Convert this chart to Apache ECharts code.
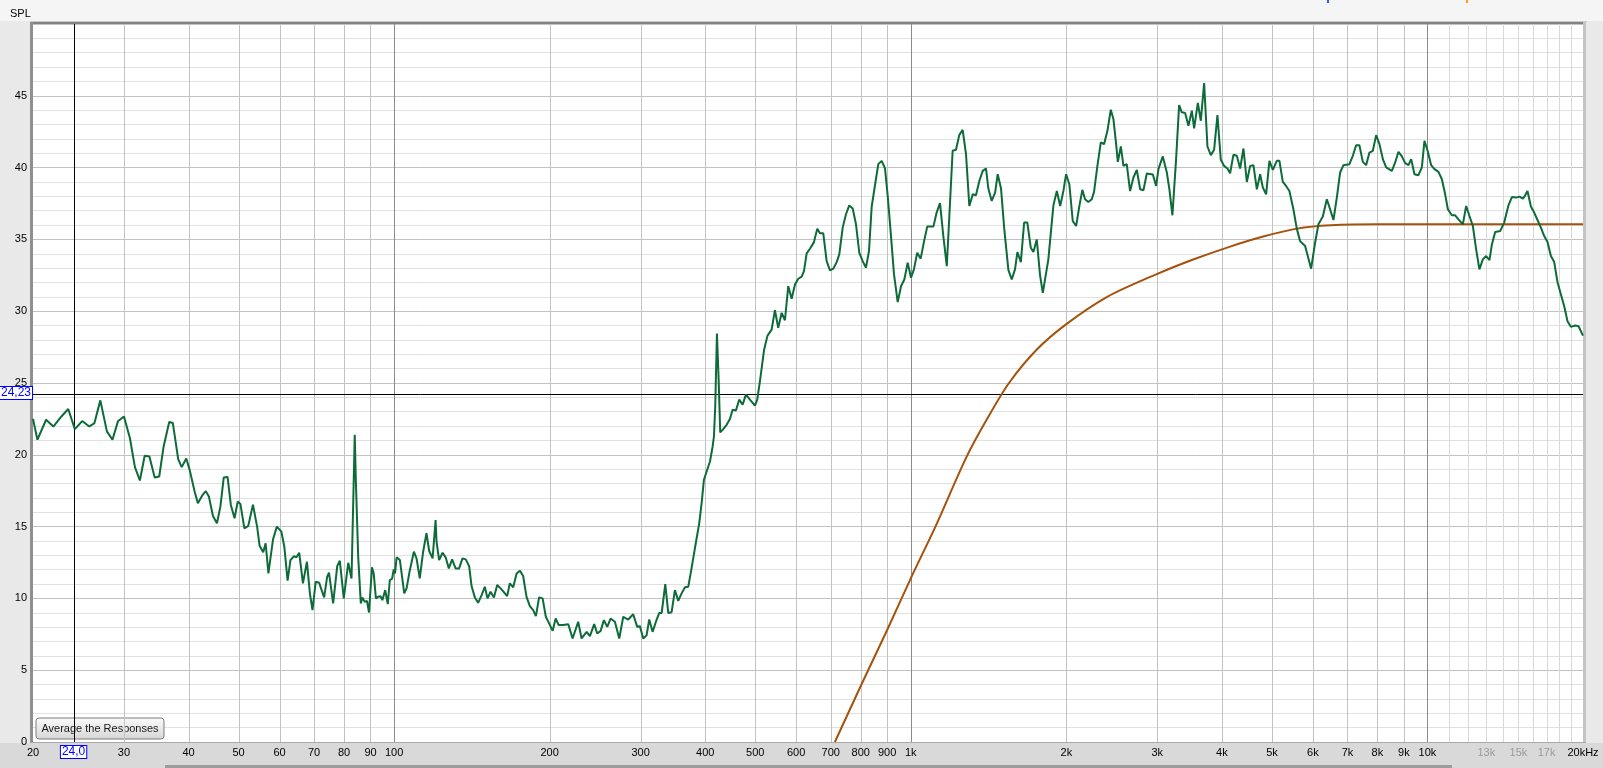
<!DOCTYPE html>
<html><head><meta charset="utf-8">
<script src="https://cdn.jsdelivr.net/npm/echarts@6/dist/echarts.min.js"></script>
<style>html,body{margin:0;padding:0;background:#e9e9e9;}#c{width:1603px;height:768px;}</style>
</head><body><div id="c"></div>
<script>
// ---- data ----
const freqHz = [20.0,20.4,21.2,21.9,22.7,23.4,24.1,24.9,25.7,26.3,27.0,27.8,28.5,29.2,30.0,30.8,31.5,32.2,32.9,33.6,34.4,35.1,35.8,36.7,37.3,38.2,38.8,39.6,40.2,41.1,41.7,42.6,43.2,43.8,44.6,45.4,46.1,46.8,47.6,48.3,49.1,49.8,50.4,51.3,52.2,53.3,54.3,54.9,55.8,56.4,57.1,58.3,59.3,60.5,61.3,62.2,63.0,64.0,64.7,65.5,66.6,67.8,68.7,69.5,70.5,71.6,72.3,73.2,74.2,74.8,76.2,77.6,78.5,79.9,81.5,82.7,83.9,84.3,85.2,86.2,86.8,87.7,88.6,89.4,90.6,91.3,92.2,93.1,94.1,94.9,96.1,97.2,98.1,99.1,99.8,100.4,101.1,102.6,104.6,105.7,107.2,109.2,110.5,112.1,113.8,115.5,116.9,118.7,120.3,120.8,122.2,124.1,125.8,127.6,129.5,131.5,133.6,135.6,137.6,139.7,141.2,143.3,145.4,147.7,149.8,151.6,153.7,156.0,158.3,161.4,165.5,167.5,170.0,172.6,175.2,177.7,180.4,183.1,185.8,188.1,190.8,193.8,196.6,199.5,202.7,205.4,208.2,212.5,217.3,221.5,227.1,230.6,235.8,239.3,243.9,247.2,251.0,254.7,258.5,262.4,267.5,272.7,277.6,283.8,290.2,295.4,299.0,303.4,308.1,311.7,316.4,322.2,326.0,329.5,334.8,339.3,344.4,349.5,354.7,360.1,365.5,370.9,374.9,379.2,385.0,389.5,393.7,397.7,402.6,408.6,413.5,415.9,418.3,421.5,424.7,427.7,433.5,440.1,446.6,452.0,458.7,465.5,472.6,479.6,488.3,499.3,504.4,510.5,520,528,537.8,545.8,553.9,562.4,570.7,579.2,588.0,596.8,605.6,614.9,621.2,628.7,638.0,649.5,659.1,667.1,677.0,687.3,697.5,707.9,718.7,727.1,738.2,749.1,760.2,771.8,783.3,794.9,807.0,819.0,830.0,840.1,852.5,865.2,878.4,891.4,902.2,914.4,927.9,943.3,957.4,971.6,986.3,1001,1014,1029,1045,1061,1076,1106,1122,1139,1156,1174,1191,1205,1223,1241,1260,1279,1298,1318,1337,1357,1378,1398,1413,1434,1456,1473,1495,1517,1545,1568,1591,1608,1633,1657,1681,1707,1727,1753,1779,1801,1846,1888,1917,1946,1974,1998,2027,2058,2089,2120,2148,2174,2206,2240,2263,2297,2332,2366,2402,2438,2467,2497,2516,2550,2580,2618,2657,2697,2738,2779,2820,2863,2941,2984,3015,3074,3130,3166,3209,3262,3306,3346,3396,3446,3499,3535,3594,3642,3696,3751,3808,3864,3922,3981,4040,4100,4150,4211,4276,4339,4404,4471,4537,4604,4675,4744,4801,4872,4944,5020,5110,5170,5248,5326,5405,5502,5586,5669,5797,5954,6061,6151,6273,6386,6480,6577,6677,6776,6876,7062,7170,7276,7384,7497,7608,7721,7839,7956,8074,8197,8319,8533,8659,8787,8922,9054,9189,9300,9437,9607,9753,9867,10007,10166,10317,10503,10663,10821,10952,11148,11314,11481,11708,11882,12058,12243,12424,12605,12800,12990,13183,13325,13522,13827,14076,14348,14567,14849,15070,15300,15458,15617,15856,16091,16329,16579,16825,17074,17335,17592,17852,18125,18394,18666,18951,19318,19604,20000];
const splMeasured = [22.5,21.05,22.44,21.97,22.67,23.19,21.79,22.35,21.97,22.21,23.79,21.63,21.05,22.33,22.67,21.17,19.14,18.21,19.93,19.88,18.42,18.49,20.58,22.28,22.21,19.7,19.14,19.74,18.95,17.44,16.63,17.21,17.47,17.09,15.74,15.23,16.39,18.42,18.46,16.51,15.58,16.74,16.58,14.88,15.05,16.53,15.0,13.67,13.21,13.84,11.74,14.12,15.0,14.65,13.6,11.23,12.67,12.95,12.86,13.18,11.05,12.55,10.35,9.18,11.16,11.09,10.63,10.07,11.51,11.79,9.65,12.25,12.62,10.0,12.48,11.39,21.4,18.3,12.9,9.65,10.07,9.76,9.83,9.02,12.16,11.74,10.0,10.11,10.16,9.88,10.58,9.6,11.28,11.37,12.02,11.74,12.86,12.67,10.35,10.7,11.93,13.25,12.79,11.39,13.25,14.54,13.3,12.79,15.46,13.95,12.67,13.18,12.86,12.09,12.72,12.09,12.09,12.79,12.72,12.25,10.86,10.07,9.69,10.23,10.81,10.0,10.46,10.07,10.93,10.63,10.16,11.05,10.77,11.74,11.93,11.56,10.11,9.46,9.18,8.77,10.07,10.0,8.72,8.26,7.74,8.6,8.14,8.14,8.2,7.21,8.37,7.21,7.67,7.37,8.21,7.56,7.74,8.49,8.02,8.6,8.37,7.21,8.72,8.53,8.9,8.02,8.07,7.21,7.44,8.53,7.67,8.53,8.99,8.99,11.0,8.99,9.04,10.58,9.83,10.35,10.77,10.81,11.74,12.79,14.19,15.23,16.63,18.26,18.84,19.53,20.58,21.28,23.37,28.44,25.23,21.56,21.79,22.09,22.49,23.14,23.09,23.84,23.49,24.19,23.84,23.42,23.84,25.12,27.3,28.3,28.72,30.07,28.84,29.89,29.37,31.74,30.86,31.86,32.26,32.4,32.79,34.03,34.35,34.81,35.75,35.42,35.42,33.49,32.84,32.96,33.42,33.96,35.82,36.75,37.37,37.15,36.05,34.07,33.49,33.03,34.19,37.29,38.77,40.24,40.47,39.94,38.03,35.47,32.56,30.63,31.74,32.21,33.38,32.33,32.91,34.07,33.66,34.88,35.89,35.89,36.87,37.52,35.23,33.14,37.57,41.17,41.24,42.26,42.63,40.94,37.33,38.14,38.07,39.07,39.77,39.94,38.54,37.68,38.26,39.54,38.54,35.7,32.86,32.21,32.91,34.12,33.42,36.17,36.17,34.42,34.12,35.0,32.5,31.28,33.61,37.37,38.37,37.33,38.37,39.54,38.84,36.28,35.93,37.33,38.45,37.8,37.61,37.8,38.31,40.12,41.75,41.63,42.56,44.03,43.38,41.63,40.4,41.47,40.12,40.24,38.37,39.31,39.84,38.49,38.42,39.59,39.52,38.72,39.89,40.78,39.66,38.49,36.68,40.59,44.35,43.85,43.8,42.91,43.96,42.73,44.5,43.26,45.89,41.47,40.87,41.24,43.66,40.54,40.12,39.94,39.61,40.89,40.82,39.94,41.33,39.0,40.12,40.17,38.49,39.54,38.61,38.14,40.47,39.84,40.47,40.47,39.0,38.72,38.37,37.1,35.75,34.88,34.54,32.96,34.77,36.05,36.59,37.8,37.1,36.35,37.91,39.66,40.17,40.24,40.82,41.56,41.56,40.4,40.17,41.05,41.17,42.26,41.63,40.59,40.01,39.77,40.36,41.1,40.78,40.31,40.17,40.59,39.54,39.47,40.01,41.86,41.17,40.17,39.89,39.7,39.19,38.14,37.1,36.68,36.68,36.4,36.05,37.33,36.63,35.93,34.31,32.91,33.61,33.84,33.56,34.65,35.51,35.58,36.17,37.37,37.95,37.91,37.98,37.84,38.07,38.37,37.29,36.87,36.35,35.82,35.23,34.82,33.84,33.42,32.02,31.17,30.35,29.3,28.91,29.0,28.95,28.3];
const targetHz = [713,800,900,1000,1116,1280,1400,1549,1750,2000,2400,3000,3520,4150,4810,5590,6500,8000,10000,20000];
const targetDb = [0,3.9,7.8,11.4,15.0,19.8,22.4,25.0,27.3,29.1,31.0,32.6,33.6,34.5,35.2,35.75,35.98,36.05,36.05,36.05];
const gridHz = [20,30,40,50,60,70,80,90,100,200,300,400,500,600,700,800,900,1000,2000,3000,4000,5000,6000,7000,8000,9000,10000,11000,12000,13000,14000,15000,16000,17000,18000,19000,20000];
const gridLabels = ['20','30','40','50','60','70','80','90','100','200','300','400','500','600','700','800','900','1k','2k','3k','4k','5k','6k','7k','8k','9k','10k','','','13k','','15k','','17k','','','20kHz'];
const cursorHz = 24.0, cursorDb = 24.23;
const cursorHzText = '24,0', cursorDbText = '24,23';
const yLabelStep = 5;

const FONT = 'Liberation Sans, Arial, sans-serif';
const chart = echarts.init(document.getElementById('c'), null, {renderer:'canvas'});
const zip = (a,b) => a.map((v,i)=>[v,b[i]]);

function gridLineColor(hz) {
  if (hz === 20 || hz === 20000) return null;
  if (hz === 100 || hz === 1000 || hz === 10000) return '#8a8a8a';
  if (hz > 10000) return '#d9d9d9';
  return '#c3c3c3';
}

const option = {
  animation: false,
  backgroundColor: '#e9e9e9',
  grid: {left: 33, right: 20, top: 24, bottom: 26, show: true, backgroundColor: '#ffffff', borderWidth: 0},
  xAxis: {type: 'log', logBase: 10, min: 20, max: 20000,
    axisLine: {show: false}, axisTick: {show: false}, axisLabel: {show: false},
    splitLine: {show: false}, minorTick: {show: false}, minorSplitLine: {show: false}, splitArea: {show: false}},
  yAxis: {type: 'value', min: 0, max: 50, interval: 1,
    axisLine: {show: false}, axisTick: {show: false},
    axisLabel: {interval: 0, margin: 6, fontSize: 11, fontFamily: FONT, color: '#000',
      formatter: v => (v % yLabelStep === 0 && v < 50) ? String(v) : ''},
    splitLine: {show: true, lineStyle: {width: 1, color: ['#c2c2c2','#e1e1e1','#e1e1e1','#e1e1e1','#e1e1e1']}}},
  series: [
    {type: 'custom', z: 1, silent: true, clip: false,
      data: gridHz.map((hz, i) => [hz, i]),
      renderItem: (params, api) => {
        const hz = api.value(0), i = api.value(1);
        const p0 = api.coord([hz, 0]), p1 = api.coord([hz, 50]);
        const children = [];
        const col = gridLineColor(hz);
        if (col) children.push({type: 'line', shape: {x1: Math.round(p0[0]) + 0.5, y1: p0[1], x2: Math.round(p0[0]) + 0.5, y2: p1[1]}, style: {stroke: col, lineWidth: 1}});
        if (gridLabels[i]) children.push({type: 'text', x: p0[0], y: p0[1] + 11,
          style: {text: gridLabels[i], fontSize: 11, fontFamily: FONT, fill: (hz > 10000 && hz < 20000) ? '#9a9a9a' : '#000', align: 'center', verticalAlign: 'middle'}});
        return {type: 'group', children};
      }},
    {type: 'custom', z: 4, silent: true, clip: false,
      data: [[cursorHz, cursorDb]],
      renderItem: (params, api) => {
        const p = api.coord([api.value(0), api.value(1)]);
        const a = api.coord([20, 0]), b = api.coord([20000, 50]);
        const px = Math.round(p[0]) + 0.5, py = Math.round(p[1]) + 0.5;
        return {type: 'group', children: [
          {type: 'line', shape: {x1: px, y1: a[1], x2: px, y2: b[1]}, style: {stroke: '#000', lineWidth: 1}},
          {type: 'line', shape: {x1: a[0], y1: py, x2: b[0], y2: py}, style: {stroke: '#000', lineWidth: 1}}
        ]};
      }},
    {type: 'line', name: 'target', data: zip(targetHz, targetDb), showSymbol: false, smooth: 0.3, z: 5,
      lineStyle: {color: '#a4520c', width: 2}, itemStyle: {color: '#a4520c'}},
    {type: 'line', name: 'measured', data: zip(freqHz, splMeasured), showSymbol: false, z: 6,
      lineStyle: {color: '#0c6b38', width: 2}, itemStyle: {color: '#0c6b38'}}
  ]
};
chart.setOption(option);

const cx = chart.convertToPixel({xAxisIndex: 0}, cursorHz);
const cy = chart.convertToPixel({yAxisIndex: 0}, cursorDb);

chart.setOption({graphic: [
  {type: 'rect', z: 0, silent: true, shape: {x: 0, y: 0, width: 1603, height: 21}, style: {fill: '#f5f5f5'}},
  {type: 'rect', z: 0, silent: true, shape: {x: 0, y: 743, width: 1603, height: 25}, style: {fill: '#d9d9d9'}},
  {type: 'rect', z: 0, silent: true, shape: {x: 165, y: 765, width: 1287, height: 3}, style: {fill: '#9c9c9c'}},
  {type: 'rect', z: 0, silent: true, shape: {x: 30, y: 21, width: 1557, height: 1}, style: {fill: '#c8c8c8'}},
  {type: 'rect', z: 0, silent: true, shape: {x: 30, y: 22, width: 1555, height: 2}, style: {fill: '#838383'}},
  {type: 'rect', z: 0, silent: true, shape: {x: 30, y: 22, width: 3, height: 721}, style: {fill: '#8f8f8f'}},
  {type: 'rect', z: 0, silent: true, shape: {x: 1583, y: 22, width: 3, height: 721}, style: {fill: '#c4c4c4'}},
  {type: 'rect', z: 0, silent: true, shape: {x: 30, y: 742, width: 1556, height: 1}, style: {fill: '#a9a9a9'}},
  {type: 'rect', z: 0, silent: true, shape: {x: 1327, y: 0, width: 2, height: 3}, style: {fill: '#3355ff'}},
  {type: 'rect', z: 0, silent: true, shape: {x: 1466, y: 0, width: 2, height: 3}, style: {fill: '#ff9a1a'}},
  {type: 'text', z: 10, left: 10, top: 8, silent: true, style: {text: 'SPL', fontSize: 11, fontFamily: FONT, fill: '#000'}},
  {type: 'text', z: 20, silent: true, x: 0, y: cy - 7,
    style: {text: cursorDbText, fontSize: 12, fontFamily: FONT, fill: '#0000ff', backgroundColor: '#fff', borderColor: '#0000ff', borderWidth: 1, padding: [0, 1, 0, 1]}},
  {type: 'text', z: 20, silent: true, x: cx - 13, y: 746,
    style: {text: cursorHzText, fontSize: 12, fontFamily: FONT, fill: '#0000ff', backgroundColor: '#fff', borderColor: '#0000ff', borderWidth: 1, padding: [0, 1, 0, 1]}},
  {type: 'group', z: 20, x: 36, y: 718, children: [
    {type: 'rect', shape: {x: 0, y: 0, width: 128, height: 21, r: 3},
      style: {fill: new echarts.graphic.LinearGradient(0, 0, 0, 1, [{offset: 0, color: '#fbfbfb'}, {offset: 1, color: '#d6d6d6'}]), stroke: '#7c7c7c', lineWidth: 1}},
    {type: 'text', x: 64, y: 11, style: {text: 'Average the Responses', fontSize: 11, fontFamily: FONT, fill: '#1a1a1a', align: 'center', verticalAlign: 'middle'}}
  ]}
]});
</script>
</body></html>
